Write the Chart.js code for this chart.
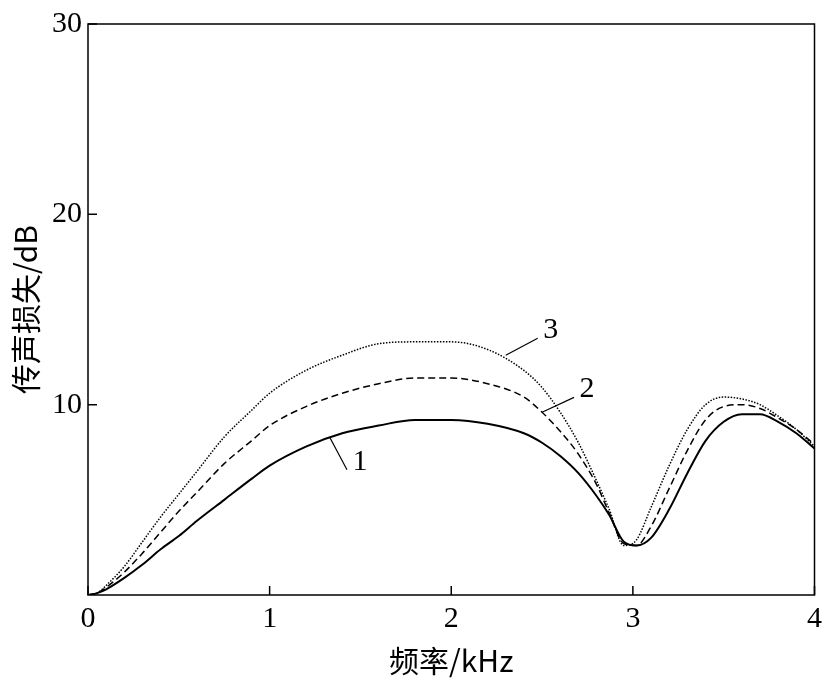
<!DOCTYPE html>
<html><head><meta charset="utf-8">
<script src="https://cdn.jsdelivr.net/npm/chart.js@4"></script>
<style>body{margin:0;background:#fff}#wrap{width:828px;height:681px}</style>
</head><body><div id="wrap"><canvas id="c"></canvas></div>
<script>
// frequency (kHz) and transmission loss (dB)
const freq = [0, 0.05, 0.1, 0.2, 0.3, 0.4, 0.5, 0.6, 0.75, 0.9, 1.0, 1.2, 1.4, 1.6, 1.8, 2.0, 2.2, 2.4, 2.5, 2.6, 2.7, 2.8, 2.87, 2.95, 3.02, 3.1, 3.2, 3.3, 3.4, 3.5, 3.6, 3.7, 3.8, 3.9, 4.0];
const loss1 = [0, 0.1, 0.3, 0.9, 1.6, 2.4, 3.1, 3.9, 5.0, 6.1, 6.8, 7.8, 8.5, 8.9, 9.2, 9.2, 9.0, 8.5, 8.0, 7.3, 6.4, 5.2, 4.2, 2.8, 2.6, 3.0, 4.5, 6.4, 8.1, 9.1, 9.5, 9.5, 9.1, 8.5, 7.7];
const loss2 = [0, 0.1, 0.4, 1.2, 2.2, 3.3, 4.4, 5.4, 6.9, 8.1, 8.9, 9.9, 10.6, 11.1, 11.4, 11.4, 11.1, 10.4, 9.6, 8.6, 7.4, 5.8, 4.3, 2.7, 2.6, 3.6, 5.6, 7.6, 9.2, 9.9, 10.0, 9.8, 9.3, 8.7, 7.9];
const loss3 = [0, 0.1, 0.5, 1.5, 2.8, 4.1, 5.3, 6.5, 8.3, 9.7, 10.6, 11.8, 12.6, 13.2, 13.3, 13.3, 12.9, 11.8, 10.9, 9.6, 8.0, 6.0, 4.5, 2.6, 2.9, 4.6, 6.8, 8.7, 10.0, 10.4, 10.3, 10.0, 9.4, 8.7, 7.8];
const xTicks = [0, 1, 2, 3, 4];
const yTicks = [10, 20, 30];
// curve labels: [label, text x, text y, leader end x, leader end y]
const curveLabels = [['1', 1.47, 6.9, 1.33, 8.3], ['2', 2.72, 10.7, 2.5, 9.6], ['3', 2.52, 13.8, 2.3, 12.6]];

const pts = ys => freq.map((x, i) => ({x, y: ys[i]}));
const serif = '"Liberation Serif", "Times New Roman", serif';

const deco = {
  id: 'deco',
  afterDraw(chart) {
    const {ctx, chartArea: a, scales: {x, y}} = chart;
    ctx.save();
    ctx.strokeStyle = '#000';
    ctx.lineWidth = 1.5;
    ctx.strokeRect(a.left, a.top, a.right - a.left, a.bottom - a.top);
    ctx.beginPath();
    xTicks.forEach(v => { const px = x.getPixelForValue(v); ctx.moveTo(px, a.bottom); ctx.lineTo(px, a.bottom - 9); });
    yTicks.forEach(v => { const py = y.getPixelForValue(v); ctx.moveTo(a.left, py); ctx.lineTo(a.left + 9, py); });
    ctx.stroke();
    ctx.font = '30px ' + serif;
    ctx.fillStyle = '#000';
    ctx.textAlign = 'center';
    ctx.textBaseline = 'middle';
    ctx.lineWidth = 1.2;
    curveLabels.forEach(([t, tx, ty, lx, ly]) => {
      const px = x.getPixelForValue(tx), py = y.getPixelForValue(ty);
      ctx.beginPath();
      ctx.moveTo(px - 8, py + 6);
      ctx.lineTo(x.getPixelForValue(lx), y.getPixelForValue(ly));
      ctx.stroke();
      ctx.fillText(t, px + 5, py - 2);
    });
    ctx.restore();
  }
};

new Chart(document.getElementById('c'), {
  type: 'line',
  data: {
    datasets: [
      {data: pts(loss1), borderColor: '#000', borderWidth: 2},
      {data: pts(loss2), borderColor: '#000', borderWidth: 1.5, borderDash: [7, 4]},
      {data: pts(loss3), borderColor: '#000', borderWidth: 1.5, borderDash: [1.5, 1.5]}
    ]
  },
  options: {
    responsive: true,
    maintainAspectRatio: false,
    animation: false,
    layout: {padding: {top: 4, right: 2, left: 4, bottom: 0}},
    elements: {point: {radius: 0}, line: {tension: 0.4, cubicInterpolationMode: 'monotone'}},
    plugins: {legend: {display: false}, tooltip: {enabled: false}},
    scales: {
      x: {
        type: 'linear', min: 0, max: 4,
        afterBuildTicks: s => { s.ticks = xTicks.map(value => ({value})); },
        grid: {display: false, drawTicks: false},
        border: {display: false},
        ticks: {color: '#000', font: {family: serif, size: 30}, padding: 6},
        title: {display: true, text: '频率/kHz', color: '#000', font: {family: '"Noto Sans CJK SC", ' + serif, size: 30}, padding: {top: 0, bottom: 2}}
      },
      y: {
        min: 0, max: 30,
        afterBuildTicks: s => { s.ticks = [0, 10, 20, 30].map(value => ({value})); },
        grid: {display: false, drawTicks: false},
        border: {display: false},
        ticks: {color: '#000', font: {family: serif, size: 30}, padding: 6, callback: v => v === 0 ? '' : v},
        title: {display: true, text: '传声损失/dB', color: '#000', font: {family: '"Noto Sans CJK SC", ' + serif, size: 30}, padding: {bottom: 2}}
      }
    }
  },
  plugins: [deco]
});
</script></body></html>
